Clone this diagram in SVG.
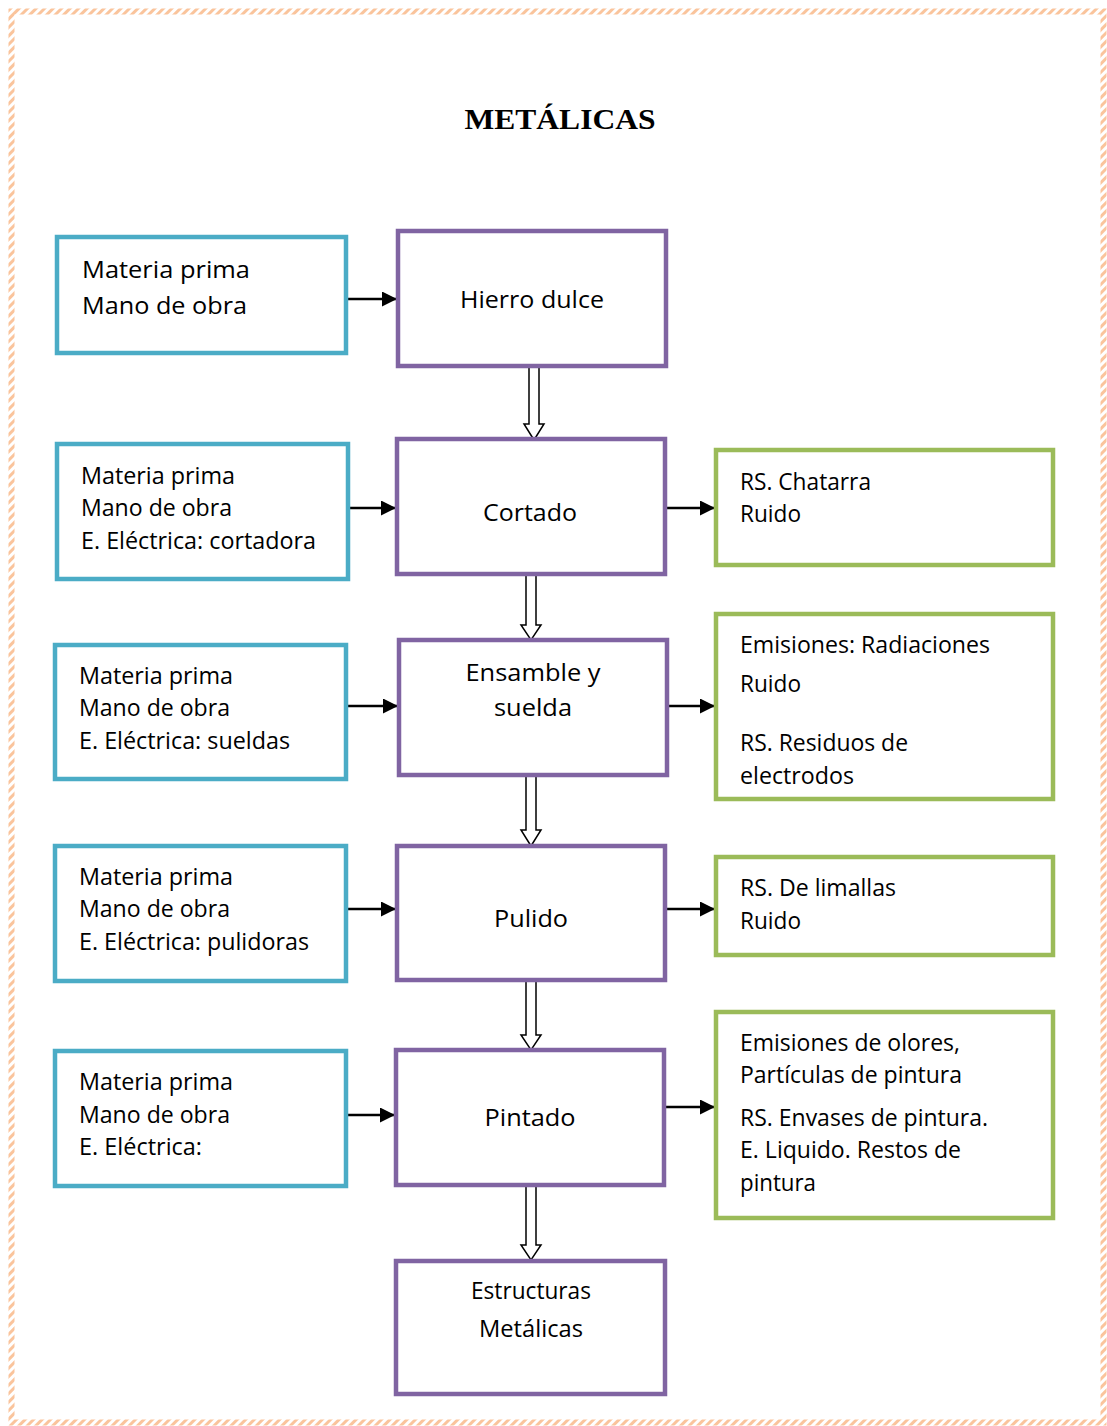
<svg xmlns="http://www.w3.org/2000/svg" width="1107" height="1426" viewBox="0 0 1107 1426">
<style>
.t{font-family:"Open Sans","Liberation Sans",sans-serif;font-size:23px;fill:#000}
.m{text-anchor:middle}
.b{fill:#fff;stroke:#4BACC6;stroke-width:4.5}
.p{fill:#fff;stroke:#8064A2;stroke-width:4.5}
.g{fill:#fff;stroke:#9BBB59;stroke-width:4.5}
.c{stroke:#000;stroke-width:2.5;fill:none;marker-end:url(#ah)}
.h{fill:#fff;stroke:#000;stroke-width:1.5}
</style>
<defs>
<marker id="ah" viewBox="0 0 10 10" refX="10" refY="5" markerWidth="6" markerHeight="6" orient="auto" markerUnits="strokeWidth">
<path d="M0,0 L10,5 L0,10 z" fill="#000"/>
</marker>
<pattern id="hatch" width="6" height="6" patternUnits="userSpaceOnUse" patternTransform="rotate(45)">
<rect width="6" height="6" fill="#fff"/>
<rect width="3" height="6" fill="#F8B07A" opacity="0.75"/>
</pattern>
</defs>
<rect width="1107" height="1426" fill="#fff"/>
<g id="border">
<rect x="11.5" y="11.5" width="1092" height="1411" fill="none" stroke="url(#hatch)" stroke-width="6"/>
</g>
<text x="560" y="129" font-family="Liberation Serif,serif" font-weight="bold" font-size="30" text-anchor="middle" textLength="191" lengthAdjust="spacingAndGlyphs">METÁLICAS</text>

<g id="connectors">
<line class="c" x1="346" y1="299" x2="397" y2="299"/>
<line class="c" x1="348" y1="508" x2="396" y2="508"/>
<line class="c" x1="665" y1="508" x2="715" y2="508"/>
<line class="c" x1="346" y1="706" x2="398" y2="706"/>
<line class="c" x1="667" y1="706" x2="715" y2="706"/>
<line class="c" x1="346" y1="909" x2="396" y2="909"/>
<line class="c" x1="665" y1="909" x2="715" y2="909"/>
<line class="c" x1="346" y1="1115" x2="395" y2="1115"/>
<line class="c" x1="664" y1="1107" x2="715" y2="1107"/>
<polygon class="h" points="529,366 539,366 539,424 544,424 534,440 524,424 529,424"/>
<polygon class="h" points="526,574 536,574 536,625 541,625 531,640 521,625 526,625"/>
<polygon class="h" points="526,775 536,775 536,830 541,830 531,846 521,830 526,830"/>
<polygon class="h" points="526,980 536,980 536,1035 541,1035 531,1050 521,1035 526,1035"/>
<polygon class="h" points="526,1185 536,1185 536,1245 541,1245 531,1260 521,1245 526,1245"/>
</g>

<g id="in1"><rect class="b" x="57" y="237" width="289" height="116"/>
<text class="t" x="82" y="278" textLength="168" lengthAdjust="spacingAndGlyphs">Materia prima</text>
<text class="t" x="82" y="314" textLength="165" lengthAdjust="spacingAndGlyphs">Mano de obra</text></g>
<g id="p1"><rect class="p" x="398" y="231" width="268" height="135"/>
<text class="t m" x="532" y="308" textLength="144" lengthAdjust="spacingAndGlyphs">Hierro dulce</text></g>

<g id="in2"><rect class="b" x="57" y="444" width="291" height="135"/>
<text class="t" x="81" y="484" textLength="154" lengthAdjust="spacingAndGlyphs">Materia prima</text>
<text class="t" x="81" y="516" textLength="151" lengthAdjust="spacingAndGlyphs">Mano de obra</text>
<text class="t" x="81" y="549" textLength="235" lengthAdjust="spacingAndGlyphs">E. Eléctrica: cortadora</text></g>
<g id="p2"><rect class="p" x="397" y="439" width="268" height="135"/>
<text class="t m" x="530" y="521" textLength="94" lengthAdjust="spacingAndGlyphs">Cortado</text></g>
<g id="out2"><rect class="g" x="716" y="450" width="337" height="115"/>
<text class="t" x="740" y="490" textLength="131" lengthAdjust="spacingAndGlyphs">RS. Chatarra</text>
<text class="t" x="740" y="522" textLength="61" lengthAdjust="spacingAndGlyphs">Ruido</text></g>

<g id="in3"><rect class="b" x="55" y="645" width="291" height="134"/>
<text class="t" x="79" y="684" textLength="154" lengthAdjust="spacingAndGlyphs">Materia prima</text>
<text class="t" x="79" y="716" textLength="151" lengthAdjust="spacingAndGlyphs">Mano de obra</text>
<text class="t" x="79" y="749" textLength="211" lengthAdjust="spacingAndGlyphs">E. Eléctrica: sueldas</text></g>
<g id="p3"><rect class="p" x="399" y="640" width="268" height="135"/>
<text class="t m" x="533" y="681" textLength="135" lengthAdjust="spacingAndGlyphs">Ensamble y</text>
<text class="t m" x="533" y="716" textLength="78" lengthAdjust="spacingAndGlyphs">suelda</text></g>
<g id="out3"><rect class="g" x="716" y="614" width="337" height="185"/>
<text class="t" x="740" y="653" textLength="250" lengthAdjust="spacingAndGlyphs">Emisiones: Radiaciones</text>
<text class="t" x="740" y="692" textLength="61" lengthAdjust="spacingAndGlyphs">Ruido</text>
<text class="t" x="740" y="751" textLength="168" lengthAdjust="spacingAndGlyphs">RS. Residuos de</text>
<text class="t" x="740" y="784" textLength="114" lengthAdjust="spacingAndGlyphs">electrodos</text></g>

<g id="in4"><rect class="b" x="55" y="846" width="291" height="135"/>
<text class="t" x="79" y="885" textLength="154" lengthAdjust="spacingAndGlyphs">Materia prima</text>
<text class="t" x="79" y="917" textLength="151" lengthAdjust="spacingAndGlyphs">Mano de obra</text>
<text class="t" x="79" y="950" textLength="230" lengthAdjust="spacingAndGlyphs">E. Eléctrica: pulidoras</text></g>
<g id="p4"><rect class="p" x="397" y="846" width="268" height="134"/>
<text class="t m" x="531" y="927" textLength="74" lengthAdjust="spacingAndGlyphs">Pulido</text></g>
<g id="out4"><rect class="g" x="716" y="857" width="337" height="98"/>
<text class="t" x="740" y="896" textLength="156" lengthAdjust="spacingAndGlyphs">RS. De limallas</text>
<text class="t" x="740" y="929" textLength="61" lengthAdjust="spacingAndGlyphs">Ruido</text></g>

<g id="in5"><rect class="b" x="55" y="1051" width="291" height="135"/>
<text class="t" x="79" y="1090" textLength="154" lengthAdjust="spacingAndGlyphs">Materia prima</text>
<text class="t" x="79" y="1123" textLength="151" lengthAdjust="spacingAndGlyphs">Mano de obra</text>
<text class="t" x="79" y="1155" textLength="123" lengthAdjust="spacingAndGlyphs">E. Eléctrica:</text></g>
<g id="p5"><rect class="p" x="396" y="1050" width="268" height="135"/>
<text class="t m" x="530" y="1126" textLength="91" lengthAdjust="spacingAndGlyphs">Pintado</text></g>
<g id="out5"><rect class="g" x="716" y="1012" width="337" height="206"/>
<text class="t" x="740" y="1051" textLength="220" lengthAdjust="spacingAndGlyphs">Emisiones de olores,</text>
<text class="t" x="740" y="1083" textLength="222" lengthAdjust="spacingAndGlyphs">Partículas de pintura</text>
<text class="t" x="740" y="1126" textLength="248" lengthAdjust="spacingAndGlyphs">RS. Envases de pintura.</text>
<text class="t" x="740" y="1158" textLength="221" lengthAdjust="spacingAndGlyphs">E. Liquido. Restos de</text>
<text class="t" x="740" y="1191" textLength="76" lengthAdjust="spacingAndGlyphs">pintura</text></g>

<g id="p6"><rect class="p" x="396" y="1261" width="269" height="133"/>
<text class="t m" x="531" y="1299" textLength="120" lengthAdjust="spacingAndGlyphs">Estructuras</text>
<text class="t m" x="531" y="1337" textLength="104" lengthAdjust="spacingAndGlyphs">Metálicas</text></g>
</svg>
